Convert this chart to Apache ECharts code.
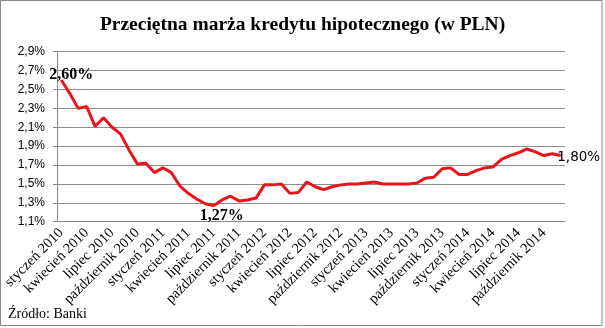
<!DOCTYPE html>
<html><head><meta charset="utf-8">
<script src="https://cdn.jsdelivr.net/npm/echarts@6/dist/echarts.min.js"></script>
<style>html,body{margin:0;padding:0;background:#fff}#c{width:605px;height:328px}</style>
</head><body><div id="c"></div>
<script>
const months = ['styczeń','luty','marzec','kwiecień','maj','czerwiec','lipiec','sierpień','wrzesień','październik','listopad','grudzień'];
const years = [2010, 2011, 2012, 2013, 2014];
const categories = [];
years.forEach(y => months.forEach(m => categories.push(m + ' ' + y)));

const margin2010 = [2.60, 2.46, 2.30, 2.32, 2.11, 2.20, 2.10, 2.03, 1.86, 1.71, 1.72, 1.62];
const margin2011 = [1.67, 1.62, 1.48, 1.40, 1.34, 1.29, 1.27, 1.33, 1.37, 1.32, 1.33, 1.35];
const margin2012 = [1.49, 1.49, 1.50, 1.40, 1.41, 1.52, 1.47, 1.44, 1.47, 1.49, 1.50, 1.50];
const margin2013 = [1.51, 1.52, 1.50, 1.50, 1.50, 1.50, 1.51, 1.56, 1.57, 1.66, 1.67, 1.60];
const margin2014 = [1.60, 1.64, 1.67, 1.68, 1.76, 1.80, 1.83, 1.87, 1.84, 1.80, 1.82, 1.80];
const values = [].concat(margin2010, margin2011, margin2012, margin2013, margin2014);

const yMin = 1.1, yMax = 2.9, yStep = 0.2;
const labelled = {0: 'a', 18: 'b', 59: 'c'};

const fmt = v => v.toFixed(2).replace('.', ',') + '%';

const chart = echarts.init(document.getElementById('c'));
chart.setOption({
  animation: false,
  title: {
    text: 'Przeciętna marża kredytu hipotecznego (w PLN)',
    left: 'center', top: 10,
    textStyle: {fontFamily: 'Liberation Serif', fontWeight: 'bold', fontSize: 19.5, color: '#000'}
  },
  grid: {left: 56, right: 40, top: 51.7, bottom: 106.3, containLabel: false},
  xAxis: {
    type: 'category', data: categories, boundaryGap: true,
    axisLine: {lineStyle: {color: '#888', width: 1}},
    axisTick: {interval: 2, length: 4, lineStyle: {color: '#888'}},
    axisLabel: {interval: 2, rotate: 45, margin: 9, color: '#000',
      fontFamily: 'Liberation Serif', fontSize: 14.5}
  },
  yAxis: {
    type: 'value', min: 0, max: +(yMax - yMin).toFixed(1), interval: yStep,
    axisLine: {show: true, lineStyle: {color: '#888', width: 1}},
    axisTick: {show: true, length: 4, lineStyle: {color: '#888'}},
    splitLine: {lineStyle: {color: '#8c8c8c', width: 1}},
    axisLabel: {margin: 12, color: '#000', fontFamily: 'Liberation Sans', fontSize: 12,
      formatter: v => (v + yMin).toFixed(1).replace('.', ',') + '%'}
  },
  graphic: [
    {type: 'rect', shape: {x: 0.5, y: 0.5, width: 601.5, height: 325}, style: {fill: 'none', stroke: '#888', lineWidth: 1}},
    {type: 'text', left: 8, top: 307, style: {text: 'Źródło: Banki', font: '14px "Liberation Serif"', fill: '#000'}}
  ],
  series: [{
    type: 'line',
    data: values.map((v, i) => {
      const d = {value: +(v - yMin).toFixed(4), orig: v};
      if (labelled[i] === 'a') d.label = {show: true, position: 'top', offset: [10, 8], fontFamily: 'Liberation Serif', fontWeight: 'bold', fontSize: 16, color: '#000'};
      if (labelled[i] === 'b') d.label = {show: true, position: 'bottom', offset: [8, -3], fontFamily: 'Liberation Serif', fontWeight: 'bold', fontSize: 16, color: '#000'};
      if (labelled[i] === 'c') d.label = {show: true, position: 'right', offset: [-9, 2], fontFamily: 'DejaVu Sans', fontSize: 13.5, color: '#000'};
      return d;
    }),
    label: {show: false, formatter: p => fmt(p.data.orig)},
    showSymbol: true, showAllSymbol: true, symbol: 'circle', symbolSize: 1,
    lineStyle: {color: '#e8141a', width: 3},
    itemStyle: {color: 'rgba(232,20,26,0)', borderWidth: 0}
  }]
});
</script></body></html>
